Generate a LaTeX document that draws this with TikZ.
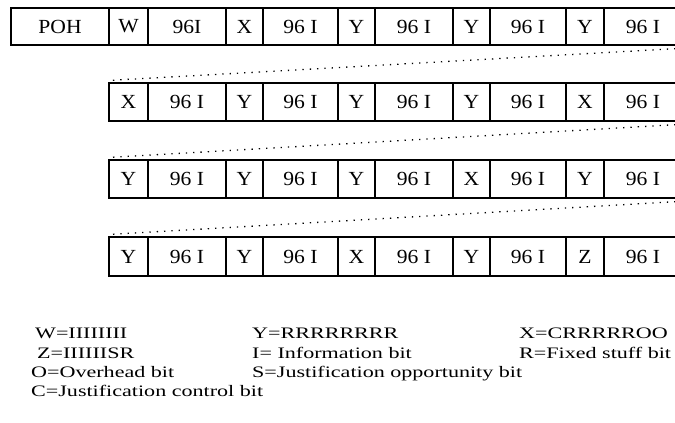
\documentclass[tikz,border=0pt]{standalone}
\usepackage{fontspec}
\setmainfont{Liberation Serif}
\newfontfamily\boxfont[FakeStretch=1.08]{Liberation Serif}
\newfontfamily\legfont[FakeStretch=1.38]{Liberation Serif}
\newcommand\cellbox[6]{%
  \node[cell, minimum width={(#3-#2)*1pt}, minimum height={(#5-#4)*1pt}]
    (#1) at ({(#2+#3)/2},{(#4+#5)/2}) {#6};}
\begin{document}
\begin{tikzpicture}[x=1pt,y=-1pt,
  cell/.style={draw, line width=1.5pt, inner sep=0pt,
    font=\boxfont\fontsize{20}{20}\selectfont},
  leg/.style={anchor=base west, inner sep=0pt,
    font=\legfont\fontsize{16}{16}\selectfont},
  link/.style={line width=1.3pt, dash pattern=on 1.3pt off 6pt}]
\useasboundingbox[fill=white] (0,0) rectangle (675,423);
% row 1
\foreach \l/\r/\t [count=\i] in {11/109/POH,109/148/W,148/226/96I,226/263/X,263/338/96 I,338/375/Y,375/453/96 I,453/490/Y,490/566/96 I,566/604/Y,604/682/96 I}
  {\cellbox{r1c\i}{\l}{\r}{8}{45}{\t}}
% row 2
\foreach \l/\r/\t [count=\i] in {109/148/X,148/226/96 I,226/263/Y,263/338/96 I,338/375/Y,375/453/96 I,453/490/Y,490/566/96 I,566/604/X,604/682/96 I}
  {\cellbox{r2c\i}{\l}{\r}{83}{121}{\t}}
% row 3
\foreach \l/\r/\t [count=\i] in {109/148/Y,148/226/96 I,226/263/Y,263/338/96 I,338/375/Y,375/453/96 I,453/490/X,490/566/96 I,566/604/Y,604/682/96 I}
  {\cellbox{r3c\i}{\l}{\r}{160}{198}{\t}}
% row 4
\foreach \l/\r/\t [count=\i] in {109/148/Y,148/226/96 I,226/263/Y,263/338/96 I,338/375/X,375/453/96 I,453/490/Y,490/566/96 I,566/604/Z,604/682/96 I}
  {\cellbox{r4c\i}{\l}{\r}{237}{276}{\t}}
% dotted connectors
\draw[link] ([yshift=-2.5pt]r1c11.south east) -- ([shift={(4pt,2pt)}]r2c1.north west);
\draw[link] ([yshift=-2.5pt]r2c10.south east) -- ([shift={(4pt,2pt)}]r3c1.north west);
\draw[link] ([yshift=-2.5pt]r3c10.south east) -- ([shift={(4pt,2pt)}]r4c1.north west);
% legend
\node[leg] (lw) at (35,338) {W=IIIIIIII};
\node[leg] (lz) at (37,358) {Z=IIIIIISR};
\node[leg] (lo) at (31,377) {O=Overhead bit};
\node[leg] (lc) at (31,396) {C=Justification control bit};
\node[leg] (ly) at (252,338) {Y=RRRRRRRR};
\node[leg] (li) at (252,358) {I= Information bit};
\node[leg] (ls) at (252,377) {S=Justification opportunity bit};
\node[leg] (lx) at (519,338) {X=CRRRRROO};
\node[leg] (lr) at (519,358) {R=Fixed stuff bit};
\end{tikzpicture}
\end{document}
